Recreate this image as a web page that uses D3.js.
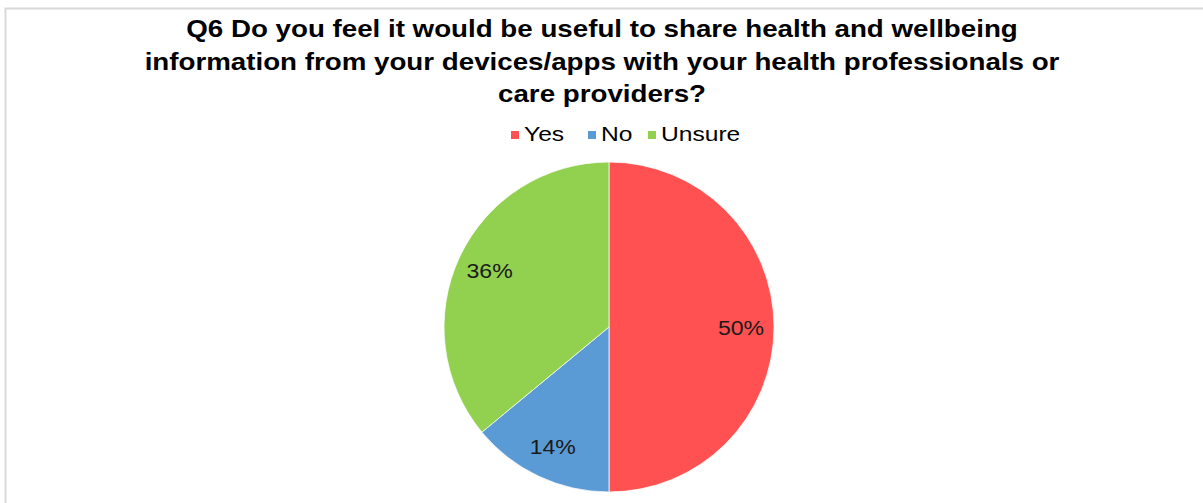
<!DOCTYPE html>
<html>
<head>
<meta charset="utf-8">
<script src="https://cdn.jsdelivr.net/npm/d3@7"></script>
<style>
  html, body { margin: 0; padding: 0; background: #fff; }
  svg { display: block; }
</style>
</head>
<body>
<svg id="chart" width="1203" height="503"></svg>
<script>
// Survey responses for Q6
const categories = ["Yes", "No", "Unsure"];
const shares = [50, 14, 36];
const sliceColors = ["#FF5151", "#5B9BD5", "#92D050"];
const titleLines = [
  "Q6 Do you feel it would be useful to share health and wellbeing",
  "information from your devices/apps with your health professionals or",
  "care providers?"
];

const svg = d3.select("#chart");
const W = 1203, H = 503;
const font = "'Liberation Sans', Arial, sans-serif";
const stretch = 1.2; // wide text rendering used throughout the chart

// chart area frame (top and left edges visible)
svg.append("rect")
  .attr("x", 5.5).attr("y", 8.5)
  .attr("width", W + 10).attr("height", H + 10)
  .attr("fill", "#fff")
  .attr("stroke", "#d9d9d9")
  .attr("stroke-width", 2);

// title, one horizontally stretched line per row
titleLines.forEach((line, i) => {
  svg.append("text")
    .attr("transform", `translate(602,${37 + i * 32.5}) scale(1.18,1)`)
    .attr("text-anchor", "middle")
    .attr("font-family", font)
    .attr("font-weight", "bold")
    .attr("font-size", 23.5)
    .attr("fill", "#000")
    .text(line);
});

// legend
const color = d3.scaleOrdinal().domain(categories).range(sliceColors);
const legendX = [511, 588, 648];
categories.forEach((c, i) => {
  const g = svg.append("g").attr("transform", `translate(${legendX[i]},135)`);
  g.append("rect").attr("x", 0).attr("y", -4).attr("width", 8).attr("height", 8).attr("fill", color(c));
  g.append("text")
    .attr("transform", `translate(13,6) scale(${stretch},1)`)
    .attr("font-family", font)
    .attr("font-size", 20.5)
    .attr("fill", "#000")
    .text(c);
});

// pie
const cx = 609, cy = 327, R = 165;
const pie = d3.pie().sort(null).value(d => d.v);
const arcs = pie(categories.map((c, i) => ({ c, v: shares[i] })));
const arc = d3.arc().innerRadius(0).outerRadius(R);
const labelArc = d3.arc().innerRadius(R * 0.8).outerRadius(R * 0.8);

const pg = svg.append("g").attr("transform", `translate(${cx},${cy})`);
pg.selectAll("path.slice")
  .data(arcs)
  .join("path")
  .attr("class", "slice")
  .attr("d", arc)
  .attr("fill", d => color(d.data.c))
  .attr("stroke", "#fff")
  .attr("stroke-width", 0.75);

pg.selectAll("text.lbl")
  .data(arcs)
  .join("text")
  .attr("class", "lbl")
  .attr("transform", d => `translate(${labelArc.centroid(d)}) scale(1.1,1)`)
  .attr("text-anchor", "middle")
  .attr("dy", "0.36em")
  .attr("font-family", font)
  .attr("font-size", 21)
  .attr("fill", "#1a1a1a")
  .text(d => d.data.v + "%");
</script>
</body>
</html>
